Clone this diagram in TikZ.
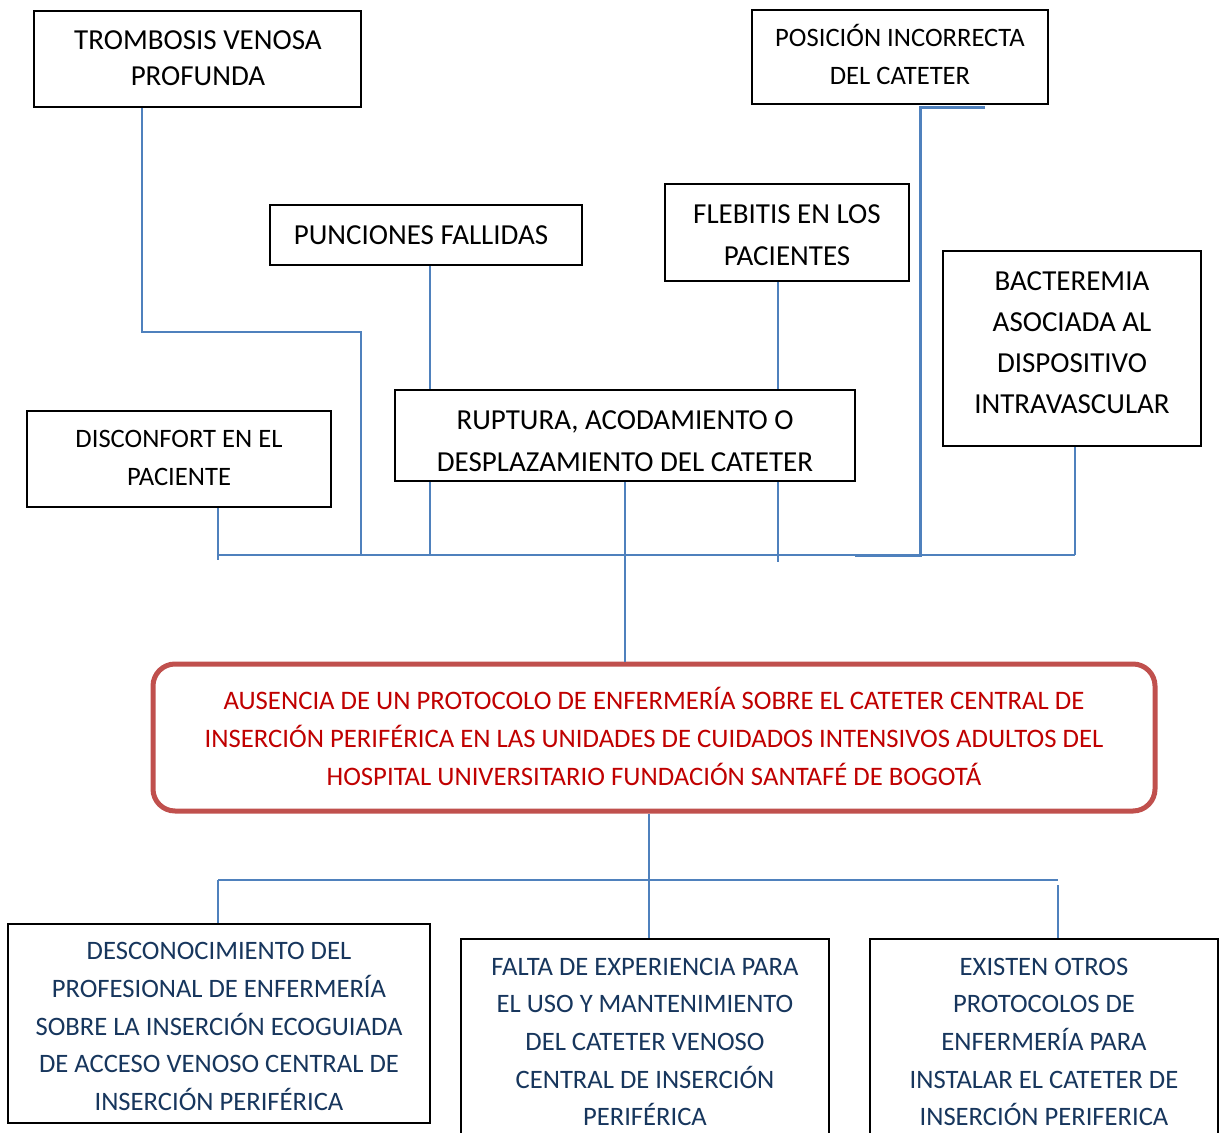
\documentclass[tikz,border=0pt]{standalone}
\usepackage{fontspec}
\setmainfont{Carlito}
\definecolor{conn}{HTML}{4F81BD}
\definecolor{redbd}{HTML}{C0504D}
\definecolor{redtx}{HTML}{C00000}
\definecolor{bluetx}{HTML}{17365D}
\tikzset{
  boxst/.style={draw=black, line width=2pt, inner sep=0pt, fill=white},
  bigtxt/.style={align=center, inner sep=0pt, font=\fontsize{29}{41}\selectfont},
  smalltxt/.style={align=center, inner sep=0pt, font=\fontsize{26.6}{38}\selectfont},
  redtxt/.style={align=center, inner sep=0pt, text=redtx, font=\fontsize{26.7}{38}\selectfont},
  bluetxt/.style={align=center, inner sep=0pt, text=bluetx, font=\fontsize{26.6}{37.7}\selectfont},
  link/.style={draw=conn, line width=2pt},
}
\begin{document}
\begin{tikzpicture}[x=1pt, y=-1pt]
\useasboundingbox (0,0) rectangle (1220,1132);

% connector points
\coordinate (busL) at (218,555);
\coordinate (busR) at (1075,555);
\coordinate (tromK) at (142,332);
\coordinate (tromK2) at (361,332);
\coordinate (tromB) at (361,555);
\coordinate (posA) at (985,107);
\coordinate (posK) at (920,107);
\coordinate (posB) at (920,555);
\coordinate (posE) at (855,555);
\coordinate (bacB) at (1075,555);
\coordinate (disE) at (218,560);
\coordinate (rupL) at (430,555);
\coordinate (rupR) at (778,562);
\coordinate (botL) at (218,880);
\coordinate (botR) at (1058,880);
\coordinate (botR2) at (1058,885);

% boxes
\node[boxst, minimum width=327pt, minimum height=96pt] (trom) at (197.5,59) {};
\node[boxst, minimum width=296pt, minimum height=94pt] (pos) at (900,57) {};
\node[boxst, minimum width=312pt, minimum height=60pt] (pun) at (426,235) {};
\node[boxst, minimum width=244pt, minimum height=97pt] (fle) at (787,232.5) {};
\node[boxst, minimum width=258pt, minimum height=195pt] (bac) at (1072,348.5) {};
\node[boxst, minimum width=304pt, minimum height=96pt] (dis) at (179,459) {};
\node[boxst, minimum width=460pt, minimum height=91pt] (rup) at (625,435.5) {};
\node[draw=redbd, line width=5pt, rounded corners=22pt, inner sep=0pt, fill=white,
      minimum width=1002pt, minimum height=147pt] (prob) at (654,737.5) {};
\node[boxst, minimum width=422pt, minimum height=199pt] (ef1) at (219,1023.5) {};
\node[boxst, minimum width=368pt, minimum height=220pt] (ef2) at (645,1049) {};
\node[boxst, minimum width=348pt, minimum height=220pt] (ef3) at (1044,1049) {};

% upper connectors
\draw[link] (trom.south -| tromK) -- (tromK) -- (tromK2) -- (tromB);
\draw[link] (pun.south -| rupL) -- (rup.north -| rupL);
\draw[link] (fle.south -| rupR) -- (rup.north -| rupR);
\draw[link] (dis.south -| disE) -- (disE);
\draw[link] (rup.south -| rupL) -- (rupL);
\draw[link] (rup.south -| rupR) -- (rupR);
\draw[link] (rup.south) -- (prob.north -| rup.south);
\draw[link] (busL) -- (posE);
\draw[link] (posB) -- (busR);
\draw[link] (bac.south -| bacB) -- (bacB);
\draw[draw=conn, line width=3pt] (posA) -- (posK) -- (posB) -- (posE);

% lower connectors
\draw[link] (prob.south -| 649,0) -- (ef2.north -| 649,0);
\draw[link] (botL) -- (botR);
\draw[link] (botL) -- (ef1.north -| botL);
\draw[link] (botR2) -- (ef3.north -| botR2);

% texts
\node[bigtxt, font=\fontsize{29}{36}\selectfont] at (198,58) {TROMBOSIS VENOSA\\PROFUNDA};
\node[smalltxt] at (900,54) {POSICIÓN INCORRECTA\\DEL CATETER};
\node[bigtxt] at (421,235) {PUNCIONES FALLIDAS};
\node[bigtxt, font=\fontsize{29}{42}\selectfont] at (787,235) {FLEBITIS EN LOS\\PACIENTES};
\node[bigtxt] at (1072,342.5) {BACTEREMIA\\ASOCIADA AL\\DISPOSITIVO\\INTRAVASCULAR};
\node[smalltxt] at (179,458) {DISCONFORT EN EL\\PACIENTE};
\node[bigtxt, font=\fontsize{29}{42}\selectfont] at (625,441) {RUPTURA, ACODAMIENTO O\\DESPLAZAMIENTO DEL CATETER};
\node[redtxt] at (654,736) {AUSENCIA DE UN PROTOCOLO DE ENFERMERÍA SOBRE EL CATETER CENTRAL DE\\INSERCIÓN PERIFÉRICA EN LAS UNIDADES DE CUIDADOS INTENSIVOS ADULTOS DEL\\HOSPITAL UNIVERSITARIO FUNDACIÓN SANTAFÉ DE BOGOTÁ};
\node[bluetxt] at (219,1026.5) {DESCONOCIMIENTO DEL\\PROFESIONAL DE ENFERMERÍA\\SOBRE LA INSERCIÓN ECOGUIADA\\DE ACCESO VENOSO CENTRAL DE\\INSERCIÓN PERIFÉRICA};
\node[bluetxt] at (645,1042) {FALTA DE EXPERIENCIA PARA\\EL USO Y MANTENIMIENTO\\DEL CATETER VENOSO\\CENTRAL DE INSERCIÓN\\PERIFÉRICA};
\node[bluetxt] at (1044,1042) {EXISTEN OTROS\\PROTOCOLOS DE\\ENFERMERÍA PARA\\INSTALAR EL CATETER DE\\INSERCIÓN PERIFERICA};
\end{tikzpicture}
\end{document}
